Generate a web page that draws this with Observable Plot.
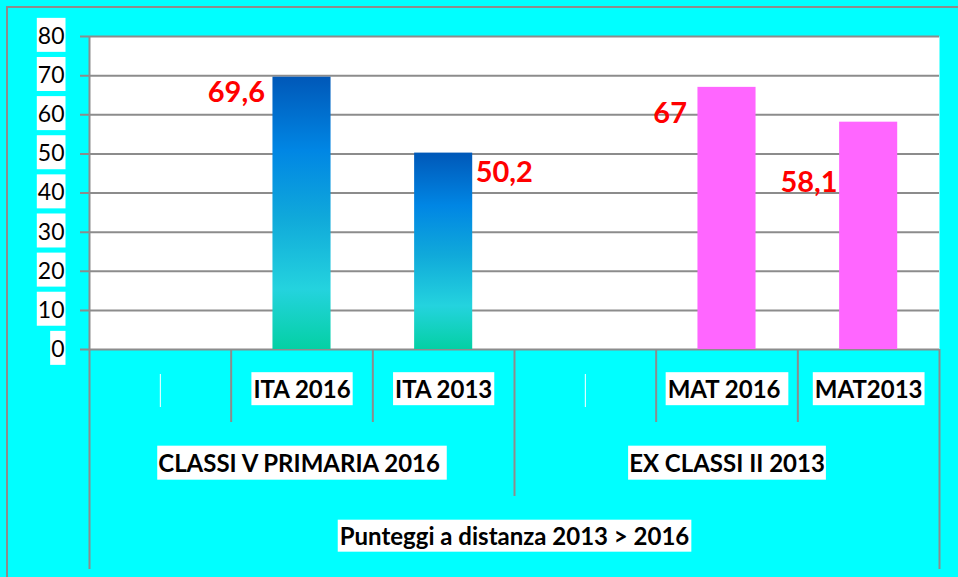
<!DOCTYPE html>
<html><head><meta charset="utf-8">
<script src="https://cdn.jsdelivr.net/npm/d3@7"></script>
<script src="https://cdn.jsdelivr.net/npm/@observablehq/plot@0.6"></script>
<style>
html,body{margin:0;padding:0;background:#00FFFF;}
#wrap{position:relative;width:958px;height:577px;background:#00FFFF;overflow:hidden;}
#border{position:absolute;left:6px;top:6px;width:980px;height:600px;border-left:2px solid #8c8c8c;border-top:2px solid #8c8c8c;}
#chart{position:absolute;left:0;top:0;}
</style></head><body>
<div id="wrap"><div id="border"></div><div id="chart"></div></div>
<script>
// ---- data ----
const categories = ["", "ITA 2016", "ITA 2013", " ", "MAT 2016", "MAT2013"];
const tickLabels = ["", "ITA 2016", "ITA 2013", "", "MAT 2016\u00A0", "MAT2013"];
const scores = [null, 69.6, 50.2, null, 67, 58.1];
const scoreLabels = ["", "69,6", "50,2", "", "67", "58,1"];
const groupOf = [0, 0, 0, 1, 1, 1];
const groups = ["CLASSI V PRIMARIA 2016\u00A0", "EX CLASSI II 2013"];
const axisTitle = "Punteggi a distanza 2013 > 2016";
const yTicks = [0, 10, 20, 30, 40, 50, 60, 70, 80];

// ---- layout ----
const W = 958, H = 577, mL = 89, mR = 19, mT = 36, mB = 228;
const step = (W - mL - mR) / categories.length;
const grid = "#8c8c8c";
const font = "Lato";

const rows = categories.map((c, i) => ({cat: c, value: scores[i], label: scoreLabels[i], tick: tickLabels[i], group: groupOf[i]}));
const bars = rows.filter(d => d.value != null);
const groupRows = groups.map((g, gi) => ({name: g, mid: categories[groupOf.indexOf(gi) + 1]}));

const labelStyle = {
  "ITA 2016": {textAnchor: "end", dx: -37, dy: 16},
  "ITA 2013": {textAnchor: "start", dx: 32, dy: 20},
  "MAT 2016": {textAnchor: "end", dx: -40, dy: 26},
  "MAT2013": {textAnchor: "end", dx: -31, dy: 61}
};
const valueLabelMarks = bars.map(b => Plot.text([b], {
  x: "cat", y: "value", text: "label", fill: "#FF0000", fontWeight: "bold",
  fontSize: 29, fontFamily: font, ...labelStyle[b.cat]
}));

const svg = Plot.plot({
  width: W, height: H,
  marginLeft: mL, marginRight: mR, marginTop: mT, marginBottom: mB,
  style: {background: "transparent", fontFamily: font, overflow: "visible"},
  x: {type: "band", domain: categories, paddingInner: 0.59, paddingOuter: 0.295, round: false, axis: null},
  y: {domain: [0, 80], axis: null},
  marks: [
    Plot.frame({fill: "white", stroke: null}),
    Plot.ruleY(yTicks, {y: d => d, stroke: grid, strokeWidth: 2, insetLeft: -9}),
    // left axis line (full height)
    Plot.ruleX([categories[0]], {x: d => d, dx: -step / 2, stroke: grid, strokeWidth: 2, insetBottom: -220}),
    // right border below baseline
    Plot.ruleX([categories[5]], {x: d => d, dx: step / 2, stroke: grid, strokeWidth: 2, insetTop: H - mT - mB, insetBottom: -220}),
    // short separators between categories
    Plot.ruleX([categories[1], categories[2], categories[4], categories[5]], {x: d => d, dx: -step / 2, stroke: grid, strokeWidth: 2, insetTop: H - mT - mB, insetBottom: -73}),
    // group separator
    Plot.ruleX([categories[3]], {x: d => d, dx: -step / 2, stroke: grid, strokeWidth: 2, insetTop: H - mT - mB, insetBottom: -147}),
    // empty label boxes
    Plot.ruleX([categories[0], categories[3]], {x: d => d, stroke: "white", strokeWidth: 1, insetTop: 338, insetBottom: -58}),
    // bars
    Plot.barY(bars.filter(d => d.group === 0), {x: "cat", y: "value", fill: "url(#itaGrad)"}),
    Plot.barY(bars.filter(d => d.group === 1), {x: "cat", y: "value", fill: "#FF66FF"}),
    ...valueLabelMarks,
    // y tick labels
    Plot.text(yTicks, {y: d => d, text: d => String(d), frameAnchor: "left", textAnchor: "end", lineAnchor: "middle", dx: -25,
      fontSize: 23, fill: "black", fontFamily: font}),
    // category labels
    Plot.text(rows.filter(d => d.tick !== ""), {x: "cat", text: "tick", frameAnchor: "bottom", lineAnchor: "middle", dy: 41,
      fontSize: 24, fontWeight: "bold", fill: "black", fontFamily: font}),
    // group labels
    Plot.text(groupRows, {x: "mid", text: "name", frameAnchor: "bottom", lineAnchor: "middle", dy: 115,
      fontSize: 24, fontWeight: "bold", fill: "black", fontFamily: font}),
    // axis title
    Plot.text([axisTitle], {text: d => d, frameAnchor: "bottom", lineAnchor: "middle", dy: 188,
      fontSize: 24, fontWeight: "bold", fill: "black", fontFamily: font})
  ]
});

// gradient defs
const NS = "http://www.w3.org/2000/svg";
const defs = document.createElementNS(NS, "defs");
const lg = document.createElementNS(NS, "linearGradient");
lg.setAttribute("id", "itaGrad");
lg.setAttribute("x1", "0"); lg.setAttribute("y1", "0"); lg.setAttribute("x2", "0"); lg.setAttribute("y2", "1");
[[0, "#0058B8"], [0.27, "#0086E4"], [0.52, "#10A9DA"], [0.78, "#24D3DE"], [1, "#04D0A4"]].forEach(([o, c]) => {
  const s = document.createElementNS(NS, "stop");
  s.setAttribute("offset", o); s.setAttribute("stop-color", c);
  lg.appendChild(s);
});
defs.appendChild(lg);
svg.insertBefore(defs, svg.firstChild);

document.getElementById("chart").appendChild(svg);

// white boxes behind axis labels
const boxSpec = new Map();
yTicks.forEach(t => boxSpec.set(String(t), [1, 34]));
tickLabels.filter(t => t).forEach(t => boxSpec.set(t, [2, 33]));
groups.forEach(t => boxSpec.set(t, [1, 34]));
boxSpec.set(axisTitle, [2, 32]);
svg.querySelectorAll("text").forEach(t => {
  const spec = boxSpec.get(t.textContent);
  if (!spec) return;
  const [padX, h] = spec;
  const b = t.getBBox();
  if (!b.width) return;
  const r = document.createElementNS(NS, "rect");
  r.setAttribute("x", b.x - padX);
  r.setAttribute("y", b.y + b.height / 2 - h / 2);
  r.setAttribute("width", b.width + 2 * padX);
  r.setAttribute("height", h);
  r.setAttribute("fill", "white");
  const tr = t.getAttribute("transform");
  if (tr) r.setAttribute("transform", tr);
  t.parentNode.insertBefore(r, t);
});
</script>
</body></html>
